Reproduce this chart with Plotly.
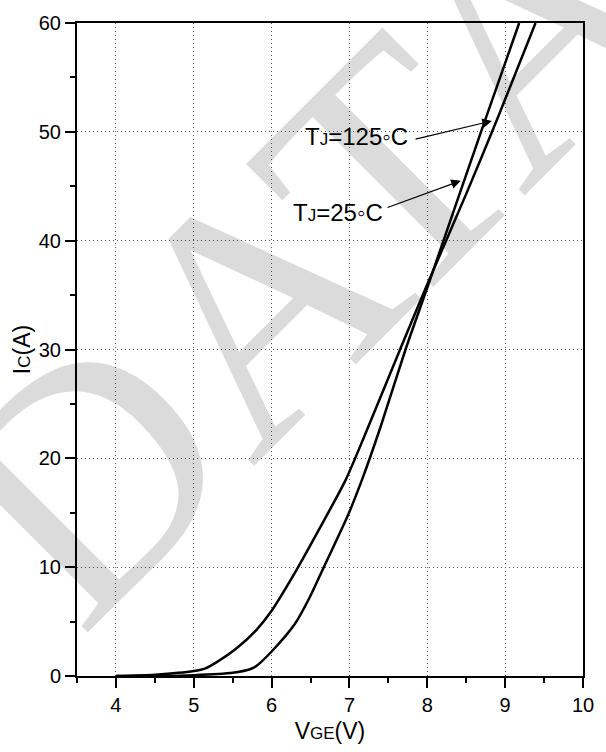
import plotly.graph_objects as go

# ---- data ----
vge_125 = [4.0, 4.5, 5.0, 5.15, 5.3, 5.55, 5.8, 6.0, 6.3, 6.65, 6.95, 7.19, 7.65, 8.0, 8.5, 8.9, 9.39]
ic_125 = [0.0, 0.12, 0.45, 0.7, 1.3, 2.55, 4.2, 6.0, 9.5, 14.0, 18.0, 22.0, 30.0, 36.0, 44.3, 51.2, 60.0]

vge_25 = [4.0, 4.5, 5.0, 5.5, 5.72, 5.8, 6.0, 6.3, 6.48, 6.67, 6.9, 7.0, 7.17, 7.4, 7.72, 8.01, 8.4, 8.7, 9.18]
ic_25 = [0.0, 0.01, 0.08, 0.3, 0.62, 0.9, 2.25, 4.8, 7.1, 10.0, 13.5, 15.1, 18.2, 22.9, 30.0, 35.9, 44.0, 50.2, 60.0]

x_ticks = [4, 5, 6, 7, 8, 9, 10]
y_ticks = [0, 10, 20, 30, 40, 50, 60]

labels = ["T<span style='font-size:17px'>J</span>=125\u25e6C",
          "T<span style='font-size:17px'>J</span>=25\u25e6C"]
label_pos = [(7.775, 49.6), (7.46, 42.6)]
arrow_tail = [(7.83, 49.3), (7.47, 43.0)]
arrow_head = [(8.83, 51.0), (8.43, 45.5)]

FONT = "Liberation Sans, Arial, sans-serif"

fig = go.Figure()
for xs, ys in [(vge_125, ic_125), (vge_25, ic_25)]:
    fig.add_trace(go.Scatter(x=xs, y=ys, mode="lines",
                             line=dict(color="black", width=2.5, shape="spline", smoothing=0.7),
                             showlegend=False, hoverinfo="skip"))

annotations = []
# watermark
annotations.append(dict(text="DATA", xref="paper", yref="paper", x=0.455, y=0.648,
                        xanchor="center", yanchor="middle",
                        showarrow=False, textangle=-45,
                        font=dict(family="Liberation Serif, Times New Roman, serif", size=335,
                                  color="rgba(0,0,0,0.14)")))
for lab, (lx, ly) in zip(labels, label_pos):
    annotations.append(dict(text=lab, x=lx, y=ly, xref="x", yref="y", showarrow=False,
                            xanchor="right", yanchor="middle",
                            font=dict(family=FONT, size=24, color="black")))
for (tx, ty), (hx, hy) in zip(arrow_tail, arrow_head):
    annotations.append(dict(text="", x=hx, y=hy, ax=tx, ay=ty, xref="x", yref="y",
                            axref="x", ayref="y", showarrow=True, arrowhead=2,
                            arrowsize=1.6, arrowwidth=1.2, arrowcolor="black"))

fig.update_layout(
    width=606, height=752,
    margin=dict(l=77, r=12, t=19, b=74),
    paper_bgcolor="white", plot_bgcolor="white",
    font=dict(family=FONT, color="black"),
    annotations=annotations,
)
fig.update_xaxes(range=[3.5, 10], tickvals=x_ticks, ticks="outside", ticklen=10, tickwidth=2,
                 tickcolor="black", tickfont=dict(size=20, family=FONT),
                 minor=dict(dtick=0.5, tick0=3.5, ticks="outside", ticklen=5, tickwidth=2,
                            tickcolor="black", showgrid=False),
                 showline=True, linecolor="black", linewidth=2, mirror=True,
                 showgrid=True, gridcolor="#555555", griddash="1px,3px", gridwidth=1,
                 zeroline=False,
                 title=dict(text="V<span style='font-size:17px'>GE</span>(V)",
                            font=dict(size=23, family=FONT), standoff=8))
fig.update_yaxes(range=[0, 60], tickvals=y_ticks, ticks="outside", ticklen=10, tickwidth=2,
                 tickcolor="black", tickfont=dict(size=20, family=FONT),
                 minor=dict(dtick=5, tick0=0, ticks="outside", ticklen=5, tickwidth=2,
                            tickcolor="black", showgrid=False),
                 showline=True, linecolor="black", linewidth=2, mirror=True,
                 showgrid=True, gridcolor="#555555", griddash="1px,3px", gridwidth=1,
                 zeroline=False,
                 title=dict(text="I<span style='font-size:17px'>C</span>(A)",
                            font=dict(size=23, family=FONT), standoff=2))

fig.write_html("out.html")
